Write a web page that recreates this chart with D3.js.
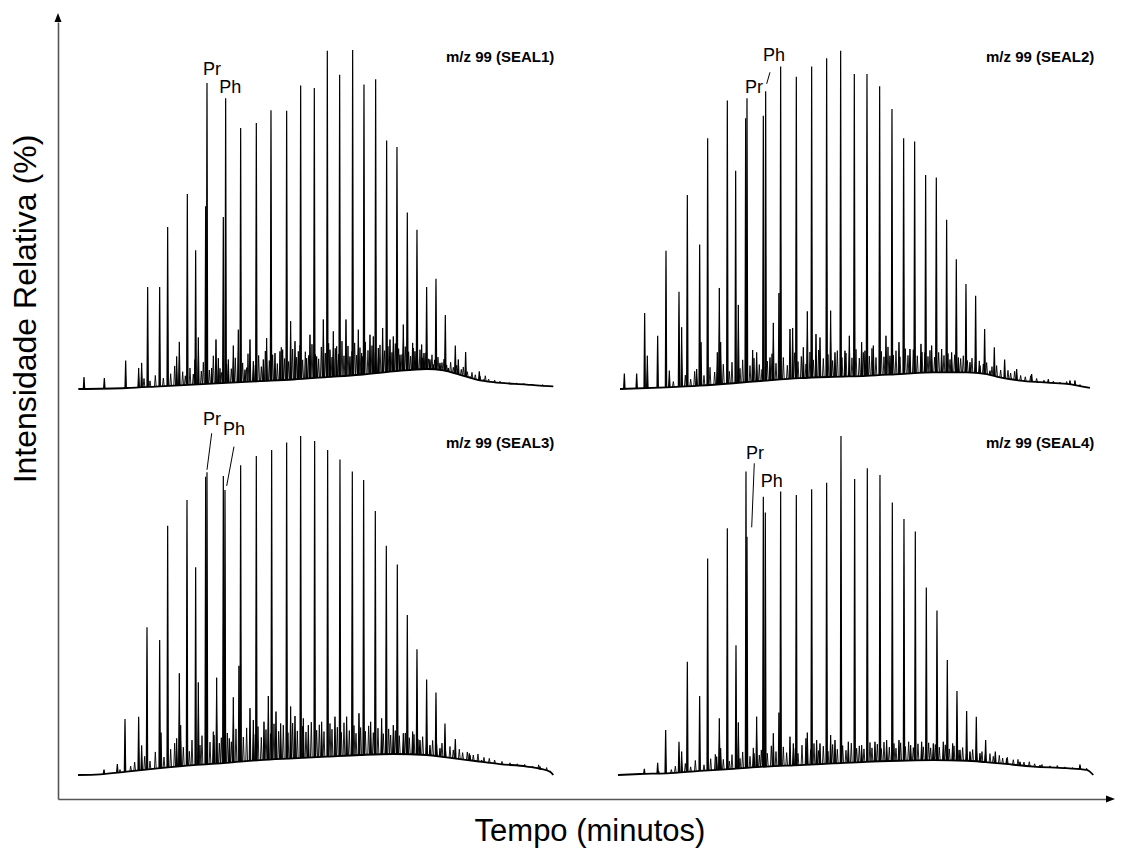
<!DOCTYPE html>
<html><head><meta charset="utf-8">
<script src="https://cdn.jsdelivr.net/npm/d3@7"></script>
<style>
body{margin:0;background:#fff}
svg{display:block}
text{font-family:Arial,"Liberation Sans",Helvetica,sans-serif;fill:#000}
</style>
</head><body>
<svg id="c" width="1130" height="848"></svg>
<script>
// ---------- DATA (retention time in min, relative intensity in %) ----------
const panelTitles = ["m/z 99 (SEAL1)", "m/z 99 (SEAL2)", "m/z 99 (SEAL3)", "m/z 99 (SEAL4)"];
const xAxisLabel = "Tempo (minutos)";
const yAxisLabel = "Intensidade Relativa (%)";

// n-alkane series peaks [t, h]
const seal1Major = [[3.6,3.5],[6.65,3.2],[9.85,8.4],[13.15,30.1],[14.95,30.1],[16.15,47.8],[19.1,57.5],[20.35,40.9],[21.85,53.9],[24.5,50.7],[27.1,77.0],[29.45,78.5],[31.65,82.2],[34.0,82.1],[36.1,89.5],[38.15,88.8],[40.1,99.8],[41.95,92.7],[43.9,100],[45.6,89.8],[47.35,91.4],[49.0,73.3],[50.55,71.4],[52.1,52.1],[53.55,47.0],[55.0,30.1],[56.4,32.5],[57.8,21.8],[59.3,12.8],[60.85,10.9],[62.9,5.2]];
const seal2Major = [[3.65,4.6],[5.5,4.6],[6.7,22.4],[8.65,15.7],[9.9,40.8],[11.85,28.7],[13.1,57.2],[14.95,42.6],[16.15,74.0],[19.1,85.1],[20.35,64.4],[21.85,79.9],[24.5,80.6],[27.1,95.1],[29.45,92.1],[31.75,95.1],[34.0,97.6],[36.1,99.8],[38.15,92.9],[40.05,92.9],[41.95,89.3],[43.8,82.6],[45.55,74.0],[47.2,73.0],[48.85,63.1],[50.45,62.4],[52.0,49.9],[53.45,38.3],[54.9,31.0],[56.35,27.5],[57.7,17.7],[59.15,12.3],[60.7,8.7],[62.5,5.9],[64.75,4.4]];
const seal3Major = [[6.6,1.6],[8.6,3.2],[9.75,16.5],[11.8,17.2],[13.05,43.6],[14.95,39.8],[16.15,73.5],[19.05,81.1],[20.35,61.3],[21.85,88.0],[24.5,88.2],[27.1,91.4],[29.45,94.1],[31.75,95.9],[34.0,98.1],[36.1,100],[38.2,98.5],[40.15,95.9],[42.0,93.1],[43.85,89.5],[45.55,87.0],[47.3,77.9],[48.95,67.6],[50.6,62.1],[52.1,47.2],[53.55,37.1],[55.0,28.2],[56.4,24.3],[57.75,15.2],[59.3,10.6],[61.4,6.4]];
const seal4Major = [[6.65,1.8],[8.65,3.6],[9.85,13.3],[11.85,9.8],[13.1,33.4],[14.95,23.3],[16.15,63.9],[19.1,72.8],[20.4,38.3],[21.9,89.5],[24.5,82.1],[27.1,83.6],[29.45,82.6],[31.75,84.3],[34.0,86.2],[36.15,100],[38.2,87.3],[40.1,90.5],[42.0,88.5],[43.85,80.4],[45.6,75.5],[47.3,71.8],[48.95,55.3],[50.55,48.5],[52.1,33.9],[53.55,24.8],[55.0,18.9],[56.45,17.2],[57.85,10.3],[59.3,6.9]];

// pristane / phytane [t, h]
const seal1Pr = [22.05, 90.3], seal1Ph = [24.85, 85.8];
const seal2Pr = [22.05, 85.8], seal2Ph = [24.85, 87.8];
const seal3Pr = [22.05, 89.3], seal3Ph = [24.75, 84.1];
const seal4Pr = [22.05, 70.3], seal4Ph = [24.8, 77.4];

// minor peaks [t, h]
const seal1Minor = [[11.8,6.2],[12.25,7.7],[17.5,9.6],[17.9,13.9],[20.25,8.7],[20.75,15.2],[22.75,6.2],[23.4,14.6],[23.75,9.1],[25.25,8.7],[26.0,12.8],[26.75,17.5],[27.75,5.7],[28.5,14.6],[29.0,8.2],[30.5,8.7],[31.0,15.0],[32.25,10.6],[33.0,11.1],[33.4,11.6],[34.6,20.0],[35.25,14.1],[35.75,11.1],[37.0,9.1],[37.5,16.0],[38.5,9.6],[39.5,20.5],[40.5,11.6],[41.0,17.0],[41.5,12.6],[42.9,20.5],[43.5,9.6],[44.75,17.5],[45.25,10.6],[46.5,16.0],[47.0,15.5],[47.75,12.1],[48.4,18.0],[49.5,14.6],[50.0,15.5],[51.0,10.1],[51.5,19.0],[52.9,13.6],[53.25,11.1],[54.25,13.1],[54.6,10.6],[55.5,8.7],[56.0,7.2],[57.0,7.7],[58.25,6.2],[59.75,8.7],[61.5,3.7],[63.5,2.8]];
const seal2Minor = [[7.1,9.8],[10.4,5.4],[12.25,18.2],[14.5,5.9],[15.15,13.8],[17.6,10.8],[17.9,29.8],[18.1,13.8],[20.75,24.8],[22.9,11.5],[23.5,10.8],[25.5,9.3],[26.0,19.5],[26.85,28.3],[28.5,17.7],[28.9,18.0],[30.5,12.3],[31.1,22.9],[32.4,16.2],[33.0,15.2],[34.6,23.1],[35.25,10.8],[36.75,11.3],[37.4,15.7],[39.25,13.8],[39.75,11.3],[41.0,12.8],[42.9,15.7],[43.5,9.8],[44.85,13.8],[46.5,11.8],[48.15,13.3],[48.75,10.8],[49.75,12.8],[51.25,11.8],[52.75,10.8],[53.75,9.3],[55.5,7.9],[57.0,6.9],[58.5,5.4],[67.25,2.9],[70.5,2.5],[71.25,2.5]];
const seal3Minor = [[12.25,8.7],[15.15,12.5],[17.5,10.8],[17.9,30.0],[18.1,14.7],[20.75,27.3],[23.1,11.8],[23.5,28.7],[25.4,10.8],[26.0,22.9],[26.85,32.2],[28.5,19.7],[29.0,16.2],[30.6,15.7],[31.25,23.3],[32.4,18.7],[33.1,15.2],[34.6,20.2],[35.25,17.4],[36.5,16.7],[37.25,14.7],[39.25,15.7],[41.25,17.2],[43.0,17.2],[44.85,18.2],[46.6,15.7],[48.25,16.7],[50.0,14.7],[51.5,12.3],[52.9,12.8],[54.0,10.3],[55.5,8.8],[57.0,7.9],[61.5,5.9],[63.25,4.4],[72.0,2.5]];
const seal4Minor = [[12.25,6.9],[17.5,5.4],[17.9,16.7],[18.1,7.9],[20.75,15.5],[23.1,6.4],[23.5,17.2],[26.0,12.3],[26.85,18.4],[28.5,11.3],[29.0,9.3],[30.9,10.8],[31.1,12.5],[32.5,10.3],[33.0,9.3],[34.6,11.8],[35.25,10.3],[37.25,9.8],[39.25,8.8],[41.25,9.8],[43.0,10.3],[44.85,10.3],[46.6,8.8],[48.25,9.8],[50.0,9.3],[51.5,9.8],[52.9,9.3],[54.0,7.4],[55.5,6.9],[57.0,6.4],[61.0,4.9],[63.0,3.9],[66.0,2.9],[72.0,2.7]];

// small unresolved peaks [t, h]
const seal1Noise = [[12.6,3.1],[13.5,2.4],[14.3,4.0],[15.5,3.2],[16.6,4.5],[17.2,6.8],[18.4,5.1],[18.8,3.9],[19.5,6.2],[20.0,4.4],[21.2,5.3],[21.5,7.9],[22.4,5.6],[23.0,9.8],[24.0,6.1],[24.2,4.9],[25.0,7.4],[25.7,6.0],[26.3,9.2],[27.4,7.7],[28.0,6.3],[28.2,10.4],[29.3,7.1],[29.8,9.9],[30.2,6.6],[30.8,11.2],[31.4,8.4],[31.9,10.1],[32.6,7.5],[33.2,12.3],[33.7,9.0],[34.3,8.1],[34.9,11.8],[35.5,9.4],[36.0,12.9],[36.4,8.6],[36.8,11.0],[37.3,9.9],[37.8,13.2],[38.3,10.2],[38.8,8.9],[39.2,12.4],[39.8,10.6],[40.3,13.5],[40.8,9.4],[41.3,12.0],[41.8,10.3],[42.3,14.1],[42.6,9.8],[43.2,12.7],[43.8,11.1],[44.2,13.6],[44.5,10.0],[45.0,12.2],[45.4,9.6],[45.8,13.9],[46.2,11.4],[46.8,12.8],[47.3,10.7],[48.0,13.0],[48.7,11.3],[49.2,12.6],[49.8,10.8],[50.3,13.4],[50.8,11.9],[51.3,10.2],[51.8,12.5],[52.3,11.0],[52.6,9.7],[53.0,12.1],[53.6,10.4],[54.0,11.6],[54.4,9.2],[54.9,10.7],[55.3,8.9],[55.8,10.1],[56.2,8.6],[56.7,9.4],[57.3,7.8],[57.6,8.8],[58.0,7.1],[58.6,7.9],[59.0,6.4],[59.5,7.0],[60.2,5.8],[60.5,6.5],[61.1,5.1],[61.8,4.9],[62.3,4.2],[63.0,3.8],[63.8,3.9],[64.3,2.9],[65.2,2.6],[66.0,2.3],[67.4,1.9],[68.5,1.7],[69.6,1.6],[70.8,1.4],[72.4,1.3]];
const seal2Noise = [[11.0,2.2],[12.8,4.1],[13.6,2.9],[14.2,5.2],[15.6,4.0],[16.5,6.4],[17.2,5.0],[18.5,7.3],[19.4,5.2],[19.8,7.9],[21.0,6.1],[21.4,8.6],[22.5,6.9],[23.1,9.1],[23.9,7.2],[24.3,5.8],[25.1,8.2],[25.8,10.4],[26.4,7.6],[27.5,9.3],[28.1,7.0],[29.2,10.7],[29.7,8.1],[30.2,9.6],[30.9,7.4],[31.5,10.9],[32.0,8.6],[32.8,11.5],[33.5,9.0],[34.2,10.2],[34.9,8.4],[35.6,11.3],[36.3,9.3],[36.9,10.6],[37.8,9.2],[38.4,11.7],[38.9,9.1],[39.5,10.8],[40.4,9.7],[40.8,12.0],[41.4,9.3],[42.2,11.1],[42.6,9.5],[43.2,12.4],[44.0,10.0],[44.4,11.3],[45.0,9.5],[45.8,11.9],[46.2,9.9],[47.0,11.6],[47.6,9.8],[48.3,10.9],[49.2,9.6],[49.5,11.4],[50.2,9.4],[50.8,10.8],[51.6,9.9],[52.2,10.5],[52.5,8.7],[53.2,10.1],[54.1,9.0],[54.5,9.8],[55.1,8.4],[55.8,9.1],[56.3,7.9],[56.9,8.3],[57.5,7.4],[58.0,7.8],[58.8,6.6],[59.5,6.9],[60.1,5.6],[61.2,5.5],[61.6,4.7],[62.2,5.2],[63.1,4.0],[63.8,3.6],[64.6,3.9],[65.5,3.1],[66.6,2.6],[68.0,2.3],[69.0,2.0],[70.0,2.2],[72.0,1.3]];
const seal3Noise = [[9.0,1.6],[10.6,2.6],[11.2,3.8],[12.7,5.5],[13.5,4.1],[14.3,6.8],[15.6,5.3],[16.6,7.6],[17.2,9.4],[18.5,8.2],[19.4,7.0],[19.8,10.3],[21.0,8.8],[21.3,11.6],[22.5,9.7],[23.0,12.8],[23.9,9.4],[24.2,11.0],[25.1,12.4],[25.7,9.8],[26.4,13.6],[27.5,11.2],[28.0,13.9],[29.3,12.0],[29.7,14.3],[30.2,11.1],[30.9,13.4],[31.6,12.2],[32.1,15.1],[32.8,12.9],[33.5,14.7],[34.2,12.5],[34.9,15.3],[35.6,13.0],[36.4,14.4],[36.9,12.7],[37.7,15.6],[38.5,13.2],[38.9,14.8],[39.6,12.8],[40.5,15.2],[40.8,13.5],[41.6,14.1],[42.2,12.6],[42.6,15.4],[43.4,13.1],[44.1,14.6],[44.4,12.3],[45.1,14.0],[45.8,12.9],[46.3,14.5],[47.0,12.5],[47.7,13.8],[48.5,12.2],[49.3,13.6],[49.6,11.8],[50.3,13.1],[50.9,11.6],[51.8,12.4],[52.4,11.0],[53.1,12.0],[53.7,10.5],[54.4,11.3],[55.0,9.9],[55.9,10.2],[56.5,9.0],[57.3,9.4],[57.8,8.1],[58.5,8.4],[59.0,7.4],[59.9,7.6],[60.4,6.6],[61.1,6.8],[62.0,5.9],[62.7,6.2],[63.6,5.2],[64.4,4.9],[65.2,4.4],[66.3,4.0],[67.5,3.6],[68.6,3.3],[69.7,3.1],[70.9,2.6],[71.8,3.0],[73.0,2.2]];
const seal4Noise = [[8.8,1.2],[10.7,1.6],[11.3,2.6],[12.8,3.4],[13.6,2.4],[14.3,4.3],[15.6,3.0],[16.6,4.8],[17.3,6.1],[18.5,4.6],[19.4,4.1],[19.8,6.0],[21.0,4.9],[21.4,6.8],[22.5,5.5],[23.0,8.0],[23.9,5.9],[24.2,7.4],[25.1,6.4],[25.7,8.6],[26.4,6.9],[27.5,8.3],[28.0,6.6],[29.3,7.9],[29.7,6.4],[30.3,8.8],[31.6,7.5],[32.1,9.3],[32.8,7.2],[33.5,8.5],[34.2,7.0],[34.9,9.0],[35.6,7.6],[36.4,8.7],[36.9,7.3],[37.7,9.4],[38.5,7.9],[38.9,8.6],[39.6,7.7],[40.5,9.6],[40.8,8.0],[41.6,9.1],[42.2,7.8],[42.6,9.7],[43.4,8.2],[44.1,9.3],[44.4,7.9],[45.1,9.5],[45.8,8.4],[46.3,9.8],[47.0,8.1],[47.7,9.2],[48.5,8.3],[49.3,9.5],[49.6,8.0],[50.3,9.0],[50.9,8.2],[51.8,8.9],[52.4,7.7],[53.1,8.6],[53.7,7.4],[54.4,8.1],[55.0,7.0],[55.9,7.5],[56.5,6.5],[57.3,6.9],[57.8,6.0],[58.5,6.3],[59.0,5.5],[59.9,5.8],[60.4,5.0],[61.1,5.2],[62.0,4.5],[62.7,4.6],[63.6,3.8],[64.4,3.9],[65.2,3.3],[66.3,3.1],[67.5,2.7],[68.6,2.8],[69.7,2.4],[70.9,2.2],[72.0,3.1],[73.0,2.0]];

// unresolved complex mixture hump [t, h]
const seal1Hump = [[2.75,0],[10,0.3],[15,0.8],[20,1.3],[25,1.8],[30,2.3],[35,2.8],[40,3.5],[45,4.2],[50,5.2],[55,5.9],[57.5,5.5],[60,4.2],[62.5,2.8],[65,2.0],[70,1.3],[72,1.0],[74,0.8]];
const seal2Hump = [[3.0,0],[10,0.5],[15,1.0],[20,1.7],[25,2.5],[30,3.2],[35,3.6],[40,3.9],[45,4.4],[50,4.9],[55,4.9],[58,4.4],[60,3.4],[63,2.5],[66,2.0],[70,1.5],[73.5,0.3]];
const seal3Hump = [[2.7,0],[6,0.2],[10,1.0],[15,2.0],[20,2.9],[25,3.6],[30,4.4],[35,4.9],[40,5.4],[45,5.9],[50,6.2],[55,5.9],[58,5.2],[62,4.2],[66,3.2],[70,2.5],[73.5,1.0],[74,0]];
const seal4Hump = [[2.7,0],[6,0.3],[10,0.5],[15,1.2],[20,1.8],[25,2.5],[30,2.9],[35,3.4],[40,3.9],[45,4.2],[50,4.4],[55,4.2],[60,3.4],[65,2.5],[70,2.0],[73,1.5],[74,0]];

// ---------- LAYOUT ----------
const svg = d3.select("#c");
const PW = 475.3, PH = 339;
const panels = [
  {title: panelTitles[0], major: seal1Major, minor: seal1Minor, noise: seal1Noise, hump: seal1Hump, pr: seal1Pr, ph: seal1Ph, x0: 78, yb: 389,
   lab: {pr:{dx:-4, dy:-8}, ph:{dx:-6.5, dy:-5}}},
  {title: panelTitles[1], major: seal2Major, minor: seal2Minor, noise: seal2Noise, hump: seal2Hump, pr: seal2Pr, ph: seal2Ph, x0: 618, yb: 389,
   lab: {pr:{dx:-2, dy:-5}, ph:{dx:-2.7, dy:-30.5, lead:[[4.3,-19],[1,-7.5]]}}},
  {title: panelTitles[2], major: seal3Major, minor: seal3Minor, noise: seal3Noise, hump: seal3Hump, pr: seal3Pr, ph: seal3Ph, x0: 78, yb: 775,
   lab: {pr:{dx:-4, dy:-47, lead:[[4.7,-39],[0,-2.5]]}, ph:{dx:-2, dy:-55, lead:[[9,-43.3],[1.7,-4]]}}},
  {title: panelTitles[3], major: seal4Major, minor: seal4Minor, noise: seal4Noise, hump: seal4Hump, pr: seal4Pr, ph: seal4Ph, x0: 618, yb: 775,
   lab: {pr:{dx:-1, dy:-77.5, lead:[[7.3,-73.4],[4.7,-9.4]]}, ph:{dx:-4.6, dy:-25.7}}}
];

panels.forEach(p => {
  const x = d3.scaleLinear().domain([2.7, 74]).range([p.x0, p.x0 + PW]);
  const y = d3.scaleLinear().domain([0, 100]).range([p.yb, p.yb - PH]);
  const g = svg.append("g");
  const hx = p.hump.map(d => d[0]);
  const humpAt = t => {
    const i = d3.bisectLeft(hx, t);
    if (i <= 0) return p.hump[0][1];
    if (i >= hx.length) return p.hump[hx.length - 1][1];
    const a = p.hump[i - 1], b = p.hump[i];
    return a[1] + (b[1] - a[1]) * (t - a[0]) / (b[0] - a[0]);
  };
  const line = d3.line().x(d => x(d[0])).y(d => y(d[1]));
  g.append("path").attr("d", d3.line().x(d => x(d[0])).y(d => y(d[1])).curve(d3.curveMonotoneX)(p.hump))
    .attr("fill", "none").attr("stroke", "#000").attr("stroke-width", 1.8).attr("stroke-linejoin", "round");
  const spike = (d, w) => line([[d[0] - w, humpAt(d[0] - w)], [d[0], d[1]], [d[0] + w, humpAt(d[0] + w)]]);
  g.selectAll(".nz").data(p.noise).enter().append("path")
    .attr("d", d => spike(d, 0.13)).attr("fill", "none").attr("stroke", "#000").attr("stroke-width", 0.9);
  g.selectAll(".mn").data(p.minor).enter().append("path")
    .attr("d", d => spike(d, 0.12)).attr("fill", "#000").attr("stroke", "#000").attr("stroke-width", 1);
  g.selectAll(".mj").data(p.major.concat([p.pr, p.ph])).enter().append("path")
    .attr("d", d => spike(d, 0.1)).attr("fill", "#000").attr("stroke", "#000").attr("stroke-width", 1.2);
  g.append("text").attr("x", p.x0 + 368).attr("y", p.yb - PH + 12).attr("font-weight", "bold").attr("font-size", 15).text(p.title);
  [["Pr", p.pr, p.lab.pr], ["Ph", p.ph, p.lab.ph]].forEach(([txt, pk, o]) => {
    const px = x(pk[0]), py = y(pk[1]);
    g.append("text").attr("x", px + o.dx).attr("y", py + o.dy).attr("font-size", 18).text(txt);
    if (o.lead) {
      g.append("line").attr("x1", px + o.lead[0][0]).attr("y1", py + o.lead[0][1])
        .attr("x2", px + o.lead[1][0]).attr("y2", py + o.lead[1][1]).attr("stroke", "#000").attr("stroke-width", 1);
    }
  });
});

// ---------- AXES ----------
const gx = d3.scaleLinear().domain([0, 1]).range([58, 1106]);
const gy = d3.scaleLinear().domain([0, 1]).range([799, 22]);
const ax = svg.append("g").attr("transform", "translate(0,799)").call(d3.axisBottom(gx).tickValues([]).tickSizeOuter(0));
const ay = svg.append("g").attr("transform", "translate(58,0)").call(d3.axisLeft(gy).tickValues([]).tickSizeOuter(0));
[ax, ay].forEach(a => a.select(".domain").attr("stroke", "#555").attr("stroke-width", 1.6));
svg.append("path").attr("d", `M${gx(1)},795.5L1115,799L${gx(1)},802.5Z`).attr("fill", "#000");
svg.append("path").attr("d", `M54.5,${gy(1)}L58,13L61.5,${gy(1)}Z`).attr("fill", "#000");

svg.append("text").attr("x", 590).attr("y", 841).attr("text-anchor", "middle").attr("font-size", 31).text(xAxisLabel);
svg.append("text").attr("transform", "translate(36,309) rotate(-90)").attr("text-anchor", "middle").attr("font-size", 32).text(yAxisLabel);
</script>
</body></html>
